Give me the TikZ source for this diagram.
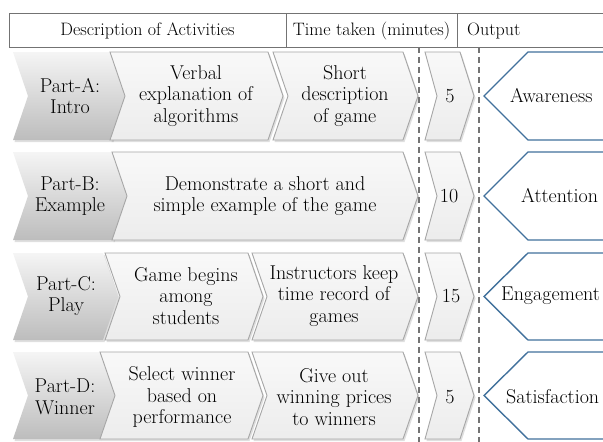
\documentclass[tikz,border=0pt]{standalone}
\usepackage{fontspec}
\usetikzlibrary{shadows}
\definecolor{hexblue}{HTML}{41719C}
\definecolor{chevline}{HTML}{A6A6A6}
\definecolor{chevfill}{HTML}{F2F2F2}
\newcommand\chevpath[5]{%
  \path[#1] (#2,#4) -- (#3,#4) -- ({#3+15},{(#4+#5)/2}) -- (#3,#5) -- (#2,#5) -- ({#2+15},{(#4+#5)/2}) -- cycle;}
\newcommand\timechev[4]{%
  \path[#1] (#2,#3) -- (460,#3) -- (474,{(#3+#4)/2}) -- (460,#4) -- (#2,#4) -- ({#2+12},{(#3+#4)/2}) -- cycle;}
\newcommand\outhex[2]{%
  \path[outbox] (484,{(#1+#2)/2}) -- (528,#1) -- (620,#1) -- (620,#2) -- (528,#2) -- cycle;}
\tikzset{
  partchev/.style={top color=gray!8, bottom color=gray!52, drop shadow={opacity=0.25,shadow xshift=1.5pt,shadow yshift=-2pt}},
  descchev/.style={draw=chevline, line width=0.9pt, top color=chevfill!50!white, bottom color=chevfill!95!gray, drop shadow={opacity=0.25,shadow xshift=1.5pt,shadow yshift=-2pt}},
  outbox/.style={draw=hexblue, line width=1.4pt, fill=white},
  txt/.style={font=\rmfamily\fontsize{20}{21.5}\selectfont, align=center, inner sep=0pt},
  htxt/.style={font=\rmfamily\fontsize{18}{20}\selectfont, inner sep=0pt},
  hline/.style={draw=black!55, line width=0.8pt},
  dline/.style={draw=black!55, line width=1.3pt, dash pattern=on 6pt off 4pt}
}
\begin{document}
\begin{tikzpicture}[x=1pt,y=-1pt]
\clip (0,0) rectangle (603,442);
\fill[white] (0,0) rectangle (603,442);
% header
\draw[hline] (9,13) rectangle (640,47);
\draw[hline] (286,13) -- (286,47);
\draw[hline] (457,13) -- (457,47);
\node[htxt] (h1) at (147.5,31) {Description of Activities};
\node[htxt] (h2) at (371.5,31) {Time taken (minutes)};
\node[htxt,anchor=west] (h3) at (467,31) {Output};
% dashed separators
\draw[dline] (419,47) -- (419,442);
\draw[dline] (479,47) -- (479,442);
% Row A
\chevpath{partchev}{13}{112}{52}{140}
\chevpath{descchev}{110}{268}{52}{140}
\chevpath{descchev}{273}{403}{52}{140}
\timechev{descchev}{425}{52}{140}
\outhex{52}{140}
\node[txt] (pa) at (70,96) {Part-A:\\Intro};
\node[txt] (a1) at (196,96) {Verbal\\explanation of\\algorithms};
\node[txt] (a2) at (345,96) {Short\\description\\of game};
\node[txt] (ta) at (450,96) {5};
\node[txt,anchor=west] (oa) at (510,96) {Awareness};
% Row B
\chevpath{partchev}{13}{113}{152}{240}
\chevpath{descchev}{112}{403}{152}{240}
\timechev{descchev}{425}{152}{240}
\outhex{152}{240}
\node[txt] (pb) at (70,196) {Part-B:\\Example};
\node[txt] (b1) at (265,196) {Demonstrate a short and\\simple example of the game};
\node[txt] (tb) at (449,196) {10};
\node[txt,anchor=west] (ob) at (521,196) {Attention};
% Row C
\chevpath{partchev}{13}{103}{253}{340}
\chevpath{descchev}{105}{248}{253}{340}
\chevpath{descchev}{252}{403}{253}{340}
\timechev{descchev}{425}{253}{340}
\outhex{253}{340}
\node[txt] (pc) at (66,296) {Part-C:\\Play};
\node[txt] (c1) at (186,296) {Game begins\\among\\students};
\node[txt] (c2) at (334,296) {Instructors keep\\time record of\\games};
\node[txt] (tc) at (451,296) {15};
\node[txt,anchor=west] (oc) at (501,296) {Engagement};
% Row D
\chevpath{partchev}{13}{100}{352}{439}
\chevpath{descchev}{100}{248}{352}{439}
\chevpath{descchev}{252}{403}{352}{439}
\timechev{descchev}{425}{352}{439}
\outhex{352}{439}
\node[txt] (pd) at (65,397) {Part-D:\\Winner};
\node[txt] (d1) at (182,397) {Select winner\\based on\\performance};
\node[txt] (d2) at (334,397) {Give out\\winning prices\\to winners};
\node[txt] (td) at (450,397) {5};
\node[txt,anchor=west] (od) at (506,397) {Satisfaction};
\end{tikzpicture}
\end{document}
